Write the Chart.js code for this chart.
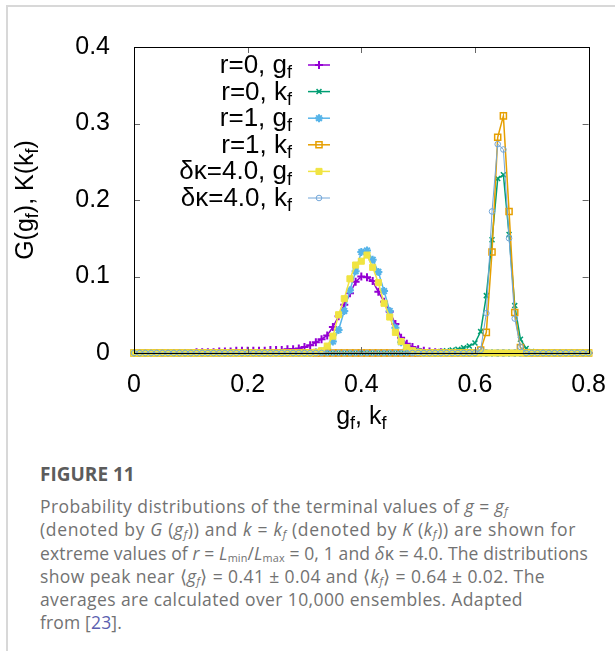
<!DOCTYPE html>
<html>
<head>
<meta charset="utf-8">
<script src="https://cdn.jsdelivr.net/npm/chart.js"></script>
<style>
html, body { margin: 0; padding: 0; background: #fff; }
#page { position: relative; width: 615px; height: 651px; overflow: hidden; }
#frame { position: absolute; left: 6px; top: 5px; right: -2px; bottom: -2px; border-top: 2px solid #d8d8d8; border-left: 2px solid #d8d8d8; }
#chart { position: absolute; left: 0; top: 0; }
#caption { position: absolute; left: 40px; top: 462px; color: #727272; font-family: "Open Sans", sans-serif; }
#caption .fig { font-weight: 700; font-size: 19px; line-height: 24px; color: #5c5c5c; margin-bottom: 9px; }
#caption .cl { font-size: 17.5px; line-height: 23.3px; white-space: nowrap; }
#caption .cl span { display: inline-block; }
#caption sub { font-size: 0.62em; vertical-align: -0.2em; line-height: 0; }
#caption .ref { color: #5b5fb0; }
</style>
</head>
<body>
<div id="page">
    <div id="frame"></div>
    <canvas id="chart" width="615" height="440"></canvas>
    <div id="caption">
        <div class="fig">FIGURE 11</div>
        <div class="cl"><span>Probability distributions of the terminal values of <i>g</i> = <i>g<sub>f</sub></i></span></div>
        <div class="cl"><span>(denoted by <i>G</i> (<i>g<sub>f</sub></i>)) and <i>k</i> = <i>k<sub>f</sub></i> (denoted by <i>K</i> (<i>k<sub>f</sub></i>)) are shown for</span></div>
        <div class="cl"><span>extreme values of <i>r</i> = <i>L</i><sub>min</sub>/<i>L</i><sub>max</sub> = 0, 1 and <i>δ</i>κ = 4.0. The distributions</span></div>
        <div class="cl"><span>show peak near ⟨<i>g<sub>f</sub></i>⟩ = 0.41 ± 0.04 and ⟨<i>k<sub>f</sub></i>⟩ = 0.64 ± 0.02. The</span></div>
        <div class="cl"><span>averages are calculated over 10,000 ensembles. Adapted</span></div>
        <div class="cl"><span>from [<span class="ref">23</span>].</span></div>
    </div>
</div>
<script>
// bins of g_f / k_f
const xBins = [
    0.00, 0.01, 0.02, 0.03, 0.04, 0.05, 0.06, 0.07, 0.08, 0.09,
    0.10, 0.11, 0.12, 0.13, 0.14, 0.15, 0.16, 0.17, 0.18, 0.19,
    0.20, 0.21, 0.22, 0.23, 0.24, 0.25, 0.26, 0.27, 0.28, 0.29,
    0.30, 0.31, 0.32, 0.33, 0.34, 0.35, 0.36, 0.37, 0.38, 0.39,
    0.40, 0.41, 0.42, 0.43, 0.44, 0.45, 0.46, 0.47, 0.48, 0.49,
    0.50, 0.51, 0.52, 0.53, 0.54, 0.55, 0.56, 0.57, 0.58, 0.59,
    0.60, 0.61, 0.62, 0.63, 0.64, 0.65, 0.66, 0.67, 0.68, 0.69,
    0.70, 0.71, 0.72, 0.73, 0.74, 0.75, 0.76, 0.77, 0.78, 0.79,
    0.80
];

// r=0, g_f
const rZeroG = [
    0, 0, 0, 0, 0, 0, 0, 0, 0, 0,
    0, 0.001, 0.001, 0.001, 0.001, 0.002, 0.002, 0.002, 0.003, 0.003,
    0.003, 0.003, 0.003, 0.003, 0.004, 0.004, 0.004, 0.005, 0.005, 0.006,
    0.008, 0.010, 0.014, 0.018, 0.023, 0.034, 0.048, 0.063, 0.078, 0.093,
    0.100, 0.099, 0.094, 0.080, 0.067, 0.054, 0.038, 0.020, 0.012, 0.008,
    0.005, 0.003, 0.002, 0.001, 0.001, 0, 0, 0, 0, 0,
    0, 0, 0, 0, 0, 0, 0, 0, 0, 0,
    0, 0, 0, 0, 0, 0, 0, 0, 0, 0,
    0
];

// r=0, k_f
const rZeroK = [
    0, 0, 0, 0, 0, 0, 0, 0, 0, 0,
    0, 0, 0, 0, 0, 0, 0, 0, 0, 0,
    0, 0, 0, 0, 0, 0, 0, 0, 0, 0,
    0, 0, 0, 0, 0, 0, 0, 0, 0, 0,
    0, 0, 0, 0, 0, 0, 0, 0, 0, 0.001,
    0.003, 0.001, 0.001, 0.001, 0.002, 0.003, 0.004, 0.005, 0.007, 0.009,
    0.013, 0.028, 0.075, 0.148, 0.228, 0.233, 0.155, 0.062, 0.018, 0.006,
    0.002, 0, 0, 0, 0, 0, 0, 0, 0, 0,
    0
];

// r=1, g_f
const rOneG = [
    0, 0, 0, 0, 0, 0, 0, 0, 0, 0,
    0, 0, 0, 0, 0, 0, 0, 0, 0, 0,
    0, 0, 0, 0, 0, 0, 0, 0, 0, 0,
    0, 0, 0.001, 0.002, 0.006, 0.015, 0.030, 0.055, 0.082, 0.107,
    0.132, 0.134, 0.122, 0.106, 0.081, 0.055, 0.033, 0.014, 0.006, 0.002,
    0.001, 0, 0, 0, 0, 0, 0, 0, 0, 0,
    0, 0, 0, 0, 0, 0, 0, 0, 0, 0,
    0, 0, 0, 0, 0, 0, 0, 0, 0, 0,
    0
];

// r=1, k_f
const rOneK = [
    0, 0, 0, 0, 0, 0, 0, 0, 0, 0,
    0, 0, 0, 0, 0, 0, 0, 0, 0, 0,
    0, 0, 0, 0, 0, 0, 0, 0, 0, 0,
    0, 0, 0, 0, 0, 0, 0, 0, 0, 0,
    0, 0, 0, 0, 0, 0, 0, 0, 0, 0,
    0, 0, 0, 0, 0, 0, 0, 0, 0, 0,
    0, 0.004, 0.027, 0.132, 0.282, 0.310, 0.185, 0.053, 0.007, 0,
    0, 0, 0, 0, 0, 0, 0, 0, 0, 0,
    0
];

// δκ=4.0, g_f
const dkG = [
    0, 0, 0, 0, 0, 0, 0, 0, 0, 0,
    0, 0, 0, 0, 0, 0, 0, 0, 0, 0,
    0, 0, 0, 0, 0, 0, 0, 0, 0, 0,
    0, 0, 0.001, 0.003, 0.009, 0.022, 0.050, 0.071, 0.097, 0.115,
    0.120, 0.128, 0.112, 0.092, 0.065, 0.047, 0.027, 0.015, 0.007, 0.003,
    0.001, 0, 0, 0, 0, 0, 0, 0, 0, 0,
    0, 0, 0, 0, 0, 0, 0, 0, 0, 0,
    0, 0, 0, 0, 0, 0, 0, 0, 0, 0,
    0
];

// δκ=4.0, k_f
const dkK = [
    0, 0, 0, 0, 0, 0, 0, 0, 0, 0,
    0, 0, 0, 0, 0, 0, 0, 0, 0, 0,
    0, 0, 0, 0, 0, 0, 0, 0, 0, 0,
    0, 0, 0, 0, 0, 0, 0, 0, 0, 0,
    0, 0, 0, 0, 0, 0, 0, 0, 0, 0,
    0, 0, 0, 0, 0, 0, 0, 0, 0, 0,
    0, 0.004, 0.052, 0.185, 0.273, 0.266, 0.150, 0.045, 0.008, 0,
    0, 0, 0, 0, 0, 0, 0, 0, 0, 0,
    0
];

const seriesLabels = ['r=0, g_f', 'r=0, k_f', 'r=1, g_f', 'r=1, k_f', 'δκ=4.0, g_f', 'δκ=4.0, k_f'];
const seriesValues = [rZeroG, rZeroK, rOneG, rOneK, dkG, dkK];
const xTitle = 'g_f, k_f';
const yTitle = 'G(g_f), K(k_f)';

const estilos = [
    { color: '#9400d3', fill: '#9400d3', punto: 'cross', radio: 4, grosor: 1.5, grosorPunto: 2 },
    { color: '#009e73', fill: '#009e73', punto: 'crossRot', radio: 3.5, grosor: 1.5, grosorPunto: 1.5 },
    { color: '#56b4e9', fill: '#56b4e9', punto: 'star', radio: 4, grosor: 1.5, grosorPunto: 2 },
    { color: '#e69f00', fill: 'rgba(0,0,0,0)', punto: 'rect', radio: 4.3, grosor: 1.5, grosorPunto: 1.5 },
    { color: '#f0e442', fill: '#f0e442', punto: 'rect', radio: 4.3, grosor: 1.5, grosorPunto: 1 },
    { color: '#72a6d8', fill: 'rgba(0,0,0,0)', punto: 'circle', radio: 2.8, grosor: 1, grosorPunto: 1 }
];

const FUENTE = '"Liberation Sans", Arial, sans-serif';

// texto con subindices: "g_f" -> g con f pequeña
function partes(texto) {
    const out = [];
    let buf = '';
    for (let i = 0; i < texto.length; i++) {
        if (texto[i] === '_' && i + 1 < texto.length) {
            if (buf) out.push({ t: buf, sub: false });
            buf = '';
            out.push({ t: texto[i + 1], sub: true });
            i++;
        } else {
            buf += texto[i];
        }
    }
    if (buf) out.push({ t: buf, sub: false });
    return out;
}

function dibujarTexto(ctx, texto, x, y, align, size) {
    const ps = partes(texto);
    const fMain = size + 'px ' + FUENTE;
    const fSub = Math.round(size * 0.7) + 'px ' + FUENTE;
    let total = 0;
    ps.forEach(p => {
        ctx.font = p.sub ? fSub : fMain;
        p.w = ctx.measureText(p.t).width;
        total += p.w;
    });
    let cx = align === 'right' ? x - total : align === 'center' ? x - total / 2 : x;
    ctx.textAlign = 'left';
    ctx.textBaseline = 'alphabetic';
    ps.forEach(p => {
        ctx.font = p.sub ? fSub : fMain;
        ctx.fillText(p.t, cx, p.sub ? y + size * 0.2 : y);
        cx += p.w;
    });
}

const gnuplotMarco = {
    id: 'gnuplotMarco',
    afterDatasetsDraw(chart) {
        const { ctx, chartArea: a, scales } = chart;
        ctx.save();
        ctx.strokeStyle = '#666';
        ctx.lineWidth = 1;
        ctx.beginPath();
        scales.x.ticks.forEach(t => {
            const px = Math.round(scales.x.getPixelForValue(t.value)) + 0.5;
            ctx.moveTo(px, a.bottom);
            ctx.lineTo(px, a.bottom - 6);
            ctx.moveTo(px, a.top);
            ctx.lineTo(px, a.top + 6);
        });
        scales.y.ticks.forEach(t => {
            const py = Math.round(scales.y.getPixelForValue(t.value)) + 0.5;
            ctx.moveTo(a.left, py);
            ctx.lineTo(a.left + 6, py);
            ctx.moveTo(a.right, py);
            ctx.lineTo(a.right - 6, py);
        });
        ctx.stroke();
        ctx.strokeStyle = '#000';
        ctx.strokeRect(Math.round(a.left) + 0.5, Math.round(a.top) + 0.5,
            Math.round(a.right - a.left), Math.round(a.bottom - a.top));
        ctx.restore();
    },
    afterDraw(chart) {
        const { ctx, chartArea: a } = chart;
        ctx.save();
        ctx.fillStyle = '#000';
        // titulos de ejes
        dibujarTexto(ctx, xTitle, (a.left + a.right) / 2, 424, 'center', 25);
        ctx.save();
        ctx.translate(33, (a.top + a.bottom) / 2);
        ctx.rotate(-Math.PI / 2);
        dibujarTexto(ctx, yTitle, 0, 0, 'center', 25);
        ctx.restore();

        // leyenda estilo gnuplot
        const textoX = 292, lineaA = 308, lineaB = 330, y0 = 65, paso = 26.6;
        seriesLabels.forEach((lab, i) => {
            const y = y0 + i * paso;
            const e = estilos[i];
            ctx.fillStyle = '#000';
            dibujarTexto(ctx, lab, textoX, y + 8, 'right', 26);
            ctx.strokeStyle = e.color;
            ctx.lineWidth = e.grosor;
            ctx.beginPath();
            ctx.moveTo(lineaA, y);
            ctx.lineTo(lineaB, y);
            ctx.stroke();
            ctx.fillStyle = e.fill;
            ctx.lineWidth = e.grosorPunto;
            Chart.helpers.drawPoint(ctx, {
                pointStyle: e.punto, radius: e.radio, rotation: 0, borderWidth: e.grosorPunto
            }, (lineaA + lineaB) / 2, y);
        });
        ctx.restore();
    }
};

function inicializarGrafico() {
    const ctx = document.getElementById('chart').getContext('2d');
    const datasets = seriesValues.map((vals, i) => ({
        label: seriesLabels[i],
        data: xBins.map((x, k) => ({ x: x, y: vals[k] })),
        borderColor: estilos[i].color,
        borderWidth: estilos[i].grosor,
        pointStyle: estilos[i].punto,
        pointRadius: estilos[i].radio,
        pointBorderWidth: estilos[i].grosorPunto,
        pointBorderColor: estilos[i].color,
        pointBackgroundColor: estilos[i].fill,
        backgroundColor: estilos[i].fill,
        tension: 0,
        fill: false,
        clip: false,
        order: seriesValues.length - 1 - i
    }));

    new Chart(ctx, {
        type: 'line',
        data: { datasets },
        options: {
            responsive: false,
            animation: false,
            events: [],
            layout: { padding: { left: 0, right: 23, top: 47, bottom: 7 } },
            plugins: {
                legend: { display: false },
                tooltip: { enabled: false }
            },
            scales: {
                x: {
                    type: 'linear',
                    min: 0,
                    max: 0.8,
                    ticks: { stepSize: 0.2, color: '#000', padding: 9, font: { family: FUENTE, size: 25 } },
                    grid: { display: false },
                    border: { display: false },
                    afterFit(scale) { scale.height = 80; }
                },
                y: {
                    min: 0,
                    max: 0.4,
                    ticks: { stepSize: 0.1, color: '#000', padding: 16, font: { family: FUENTE, size: 25 } },
                    grid: { display: false },
                    border: { display: false },
                    afterFit(scale) { scale.width = 134; }
                }
            }
        },
        plugins: [gnuplotMarco]
    });
}

// ajuste del ancho de cada linea del pie de figura
const anchosPie = [468, 536, 548, 505, 483, 82];
function ajustarPie() {
    document.querySelectorAll('#caption .cl > span').forEach((sp, i) => {
        const w = sp.getBoundingClientRect().width;
        const n = sp.textContent.length;
        sp.style.letterSpacing = ((anchosPie[i] - w) / n).toFixed(3) + 'px';
    });
}

inicializarGrafico();
ajustarPie();
</script>
</body>
</html>
